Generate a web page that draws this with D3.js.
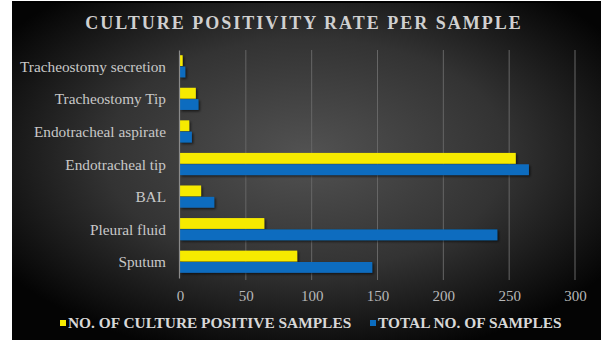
<!DOCTYPE html>
<html>
<head>
<meta charset="utf-8">
<script src="https://cdn.jsdelivr.net/npm/d3@7"></script>
<style>
  html, body { margin: 0; padding: 0; background: #ffffff; }
  svg { display: block; }
</style>
</head>
<body>
<svg id="chart" width="606" height="343"></svg>
<script>
// Sample types, listed from top to bottom
const categories = [
  "Tracheostomy secretion",
  "Tracheostomy Tip",
  "Endotracheal aspirate",
  "Endotracheal tip",
  "BAL",
  "Pleural fluid",
  "Sputum"
];
const positiveSamples = [2, 12, 7, 255, 16, 64, 89];
const totalSamples = [4, 14, 9, 265, 26, 241, 146];
const seriesNames = ["NO. OF CULTURE POSITIVE SAMPLES", "TOTAL NO. OF SAMPLES"];
const xTicks = [0, 50, 100, 150, 200, 250, 300];
const titleText = "CULTURE POSITIVITY RATE PER SAMPLE";

const colors = ["#f6ea00", "#0b6cbf"];
const serif = "Liberation Serif, Times New Roman, serif";

const svg = d3.select("#chart");
const W = 606, H = 343;

// Dark panel with a soft radial glow
const defs = svg.append("defs");
const grad = defs.append("radialGradient")
  .attr("id", "bg").attr("cx", "50%").attr("cy", "45%").attr("r", "62%");
grad.append("stop").attr("offset", "0%").attr("stop-color", "#525252");
grad.append("stop").attr("offset", "55%").attr("stop-color", "#333333");
grad.append("stop").attr("offset", "100%").attr("stop-color", "#040404");

const shadow = defs.append("filter").attr("id", "barShadow")
  .attr("x", "-5%").attr("y", "-30%").attr("width", "115%").attr("height", "170%");
shadow.append("feDropShadow").attr("dx", 1.5).attr("dy", 1.5)
  .attr("stdDeviation", 1).attr("flood-color", "#000").attr("flood-opacity", 0.6);

svg.append("rect").attr("x", 12).attr("y", 2).attr("width", 589).attr("height", 338)
  .attr("fill", "url(#bg)");
svg.append("rect").attr("x", 12).attr("y", 1).attr("width", 589).attr("height", 2)
  .attr("fill", "#000");

const margin = { left: 180, right: 31, top: 50, bottom: 65 };
const x = d3.scaleLinear().domain([0, 300]).range([margin.left, W - margin.right]);
const y = d3.scaleBand().domain(categories)
  .range([margin.top, H - margin.bottom]).paddingInner(0.32).paddingOuter(0.16);
const sub = d3.scaleBand().domain([0, 1]).range([0, y.bandwidth()]).paddingInner(0.05);

// Vertical gridlines
svg.append("g").selectAll("line").data(xTicks.slice(1)).join("line")
  .attr("x1", d => x(d)).attr("x2", d => x(d))
  .attr("y1", margin.top).attr("y2", H - margin.bottom + 2)
  .attr("stroke", "#666").attr("stroke-width", 1);

// Bars
const rows = categories.map((c, i) => ({ c, vals: [positiveSamples[i], totalSamples[i]] }));
const g = svg.append("g").attr("filter", "url(#barShadow)");
rows.forEach(r => {
  r.vals.forEach((v, j) => {
    g.append("rect")
      .attr("x", x(0))
      .attr("y", y(r.c) + sub(j))
      .attr("width", x(v) - x(0))
      .attr("height", sub.bandwidth())
      .attr("fill", colors[j]);
  });
});

// Category axis (left)
const yAxis = svg.append("g").attr("transform", `translate(${x(0) - 1},0)`)
  .call(d3.axisLeft(y).tickSize(0).tickPadding(13))
  .attr("font-family", serif).attr("font-size", 15.3);
yAxis.select(".domain").attr("stroke", "#8a8a8a").attr("stroke-width", 1.2);
yAxis.selectAll("text").attr("fill", "#c8c8c8").attr("dy", "0.36em");

// Value axis (bottom)
const xAxis = svg.append("g").attr("transform", `translate(0,${H - margin.bottom})`)
  .call(d3.axisBottom(x).tickValues(xTicks).tickSize(0).tickPadding(12))
  .attr("font-family", serif).attr("font-size", 15);
xAxis.select(".domain").remove();
xAxis.selectAll("text").attr("fill", "#b8b8b8");

// Title
svg.append("text").attr("x", 304).attr("y", 29).attr("text-anchor", "middle")
  .attr("font-family", serif).attr("font-size", 18).attr("font-weight", "bold")
  .attr("letter-spacing", 2)
  .attr("fill", "#d0d0d0").text(titleText);

// Legend
const legend = svg.append("g");
const legendX = [60, 370];
seriesNames.forEach((name, j) => {
  legend.append("rect").attr("x", legendX[j]).attr("y", 320).attr("width", 6).attr("height", 6)
    .attr("fill", colors[j]);
  legend.append("text").attr("x", legendX[j] + 8).attr("y", 328)
    .attr("font-family", serif).attr("font-size", 15.4).attr("font-weight", "bold")
    .attr("fill", "#d8d8d8").text(name);
});
</script>
</body>
</html>
